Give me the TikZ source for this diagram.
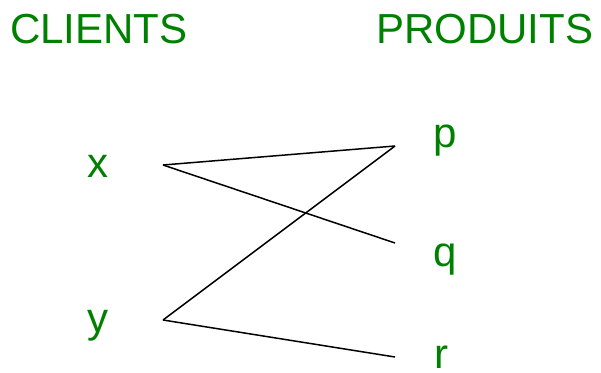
\documentclass[tikz,border=0pt]{standalone}
\usepackage{fontspec}
\setmainfont{Liberation Sans}
\definecolor{lbl}{RGB}{0,128,0}
\begin{document}
\begin{tikzpicture}[x=1pt,y=-1pt,
  lab/.style={text=lbl,font=\fontsize{42}{42}\selectfont,inner sep=0pt},
  edge/.style={draw=black,line width=1.5pt}]
\useasboundingbox (0,0) rectangle (601,372);
\node[lab,anchor=base west] (clients) at (10,43) {CLIENTS};
\node[lab,anchor=base west] (produits) at (376,43) {PRODUITS};
\node[lab,anchor=base] (x) at (98,177) {x};
\node[lab,anchor=base] (y) at (98,332) {y};
\node[lab,anchor=base] (p) at (445,147) {p};
\node[lab,anchor=base] (q) at (445,266) {q};
\node[lab,anchor=base] (r) at (441,368) {r};
\coordinate (xe) at (163,165);
\coordinate (ye) at (163,320);
\coordinate (pe) at (395,146);
\coordinate (qe) at (395,243);
\coordinate (re) at (395,357);
\draw[edge] (xe) -- (pe);
\draw[edge] (xe) -- (qe);
\draw[edge] (ye) -- (pe);
\draw[edge] (ye) -- (re);
\end{tikzpicture}
\end{document}
